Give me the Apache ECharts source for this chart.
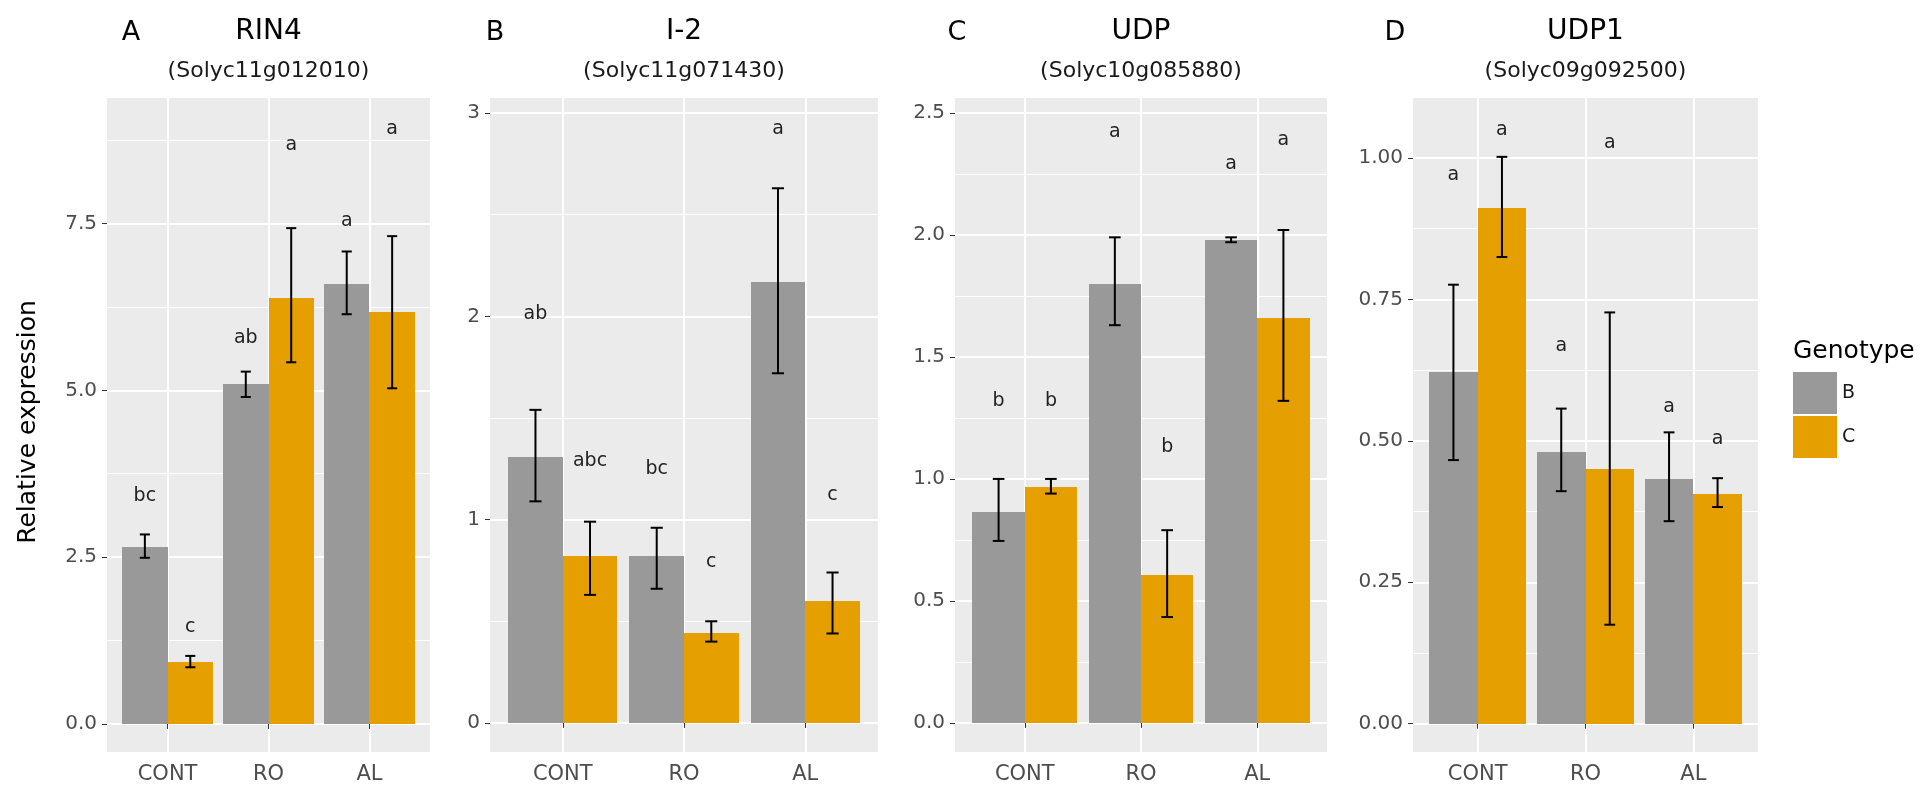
<!DOCTYPE html>
<html><head><meta charset="utf-8">
<script src="https://cdn.jsdelivr.net/npm/echarts@6/dist/echarts.min.js"></script>
<style>html,body{margin:0;padding:0;background:#fff}#c{width:1923px;height:799px}</style>
</head><body><div id="c"></div>
<script>
// ---------------- DATA ----------------
const categories = ['CONT', 'RO', 'AL'];
const genotypes = ['B', 'C'];

// Panel A: RIN4
const rin4_B = [2.65, 5.09, 6.59];
const rin4_B_lo = [2.49, 4.90, 6.14];
const rin4_B_hi = [2.84, 5.28, 7.08];
const rin4_C = [0.93, 6.39, 6.17];
const rin4_C_lo = [0.85, 5.42, 5.03];
const rin4_C_hi = [1.02, 7.43, 7.31];
const rin4_B_letters = ['bc', 'ab', 'a'];
const rin4_B_letterY = [3.41, 5.79, 7.53];
const rin4_C_letters = ['c', 'a', 'a'];
const rin4_C_letterY = [1.45, 8.68, 8.91];
const rin4_ticks = [0, 2.5, 5, 7.5];
const rin4_tickLabels = ['0.0', '2.5', '5.0', '7.5'];
const rin4_minor = [1.25, 3.75, 6.25, 8.75];

// Panel B: I-2
const i2_B = [1.31, 0.82, 2.17];
const i2_B_lo = [1.09, 0.66, 1.72];
const i2_B_hi = [1.54, 0.96, 2.63];
const i2_C = [0.82, 0.44, 0.60];
const i2_C_lo = [0.63, 0.40, 0.44];
const i2_C_hi = [0.99, 0.50, 0.74];
const i2_B_letters = ['ab', 'bc', 'a'];
const i2_B_letterY = [2.01, 1.25, 2.92];
const i2_C_letters = ['abc', 'c', 'c'];
const i2_C_letterY = [1.29, 0.79, 1.12];
const i2_ticks = [0, 1, 2, 3];
const i2_tickLabels = ['0', '1', '2', '3'];
const i2_minor = [0.5, 1.5, 2.5];

// Panel C: UDP
const udp_B = [0.865, 1.80, 1.98];
const udp_B_lo = [0.746, 1.63, 1.97];
const udp_B_hi = [1.00, 1.99, 1.99];
const udp_C = [0.967, 0.607, 1.66];
const udp_C_lo = [0.94, 0.434, 1.32];
const udp_C_hi = [1.00, 0.79, 2.02];
const udp_B_letters = ['b', 'a', 'a'];
const udp_B_letterY = [1.32, 2.42, 2.29];
const udp_C_letters = ['b', 'b', 'a'];
const udp_C_letterY = [1.32, 1.13, 2.39];
const udp_ticks = [0, 0.5, 1, 1.5, 2, 2.5];
const udp_tickLabels = ['0.0', '0.5', '1.0', '1.5', '2.0', '2.5'];
const udp_minor = [0.25, 0.75, 1.25, 1.75, 2.25];

// Panel D: UDP1
const udp1_B = [0.621, 0.481, 0.432];
const udp1_B_lo = [0.466, 0.411, 0.358];
const udp1_B_hi = [0.776, 0.557, 0.515];
const udp1_C = [0.912, 0.450, 0.406];
const udp1_C_lo = [0.825, 0.175, 0.383];
const udp1_C_hi = [1.002, 0.727, 0.434];
const udp1_B_letters = ['a', 'a', 'a'];
const udp1_B_letterY = [0.97, 0.667, 0.559];
const udp1_C_letters = ['a', 'a', 'a'];
const udp1_C_letterY = [1.049, 1.026, 0.504];
const udp1_ticks = [0, 0.25, 0.5, 0.75, 1.0];
const udp1_tickLabels = ['0.00', '0.25', '0.50', '0.75', '1.00'];
const udp1_minor = [0.125, 0.375, 0.625, 0.875];

// ---------------- LAYOUT / STYLE ----------------
const FONT = 'DejaVu Sans';
const colors = { B: '#999999', C: '#E69F00' };
const panels = [
  { tag: 'A', gene: 'RIN4', id: '(Solyc11g012010)', left: 107, width: 323, ymin: -0.42, ymax: 9.38,
    B: [rin4_B, rin4_B_lo, rin4_B_hi, rin4_B_letters, rin4_B_letterY],
    C: [rin4_C, rin4_C_lo, rin4_C_hi, rin4_C_letters, rin4_C_letterY],
    ticks: rin4_ticks, labels: rin4_tickLabels, minor: rin4_minor, tagX: 131 },
  { tag: 'B', gene: 'I-2', id: '(Solyc11g071430)', left: 490, width: 388, ymin: -0.143, ymax: 3.074,
    B: [i2_B, i2_B_lo, i2_B_hi, i2_B_letters, i2_B_letterY],
    C: [i2_C, i2_C_lo, i2_C_hi, i2_C_letters, i2_C_letterY],
    ticks: i2_ticks, labels: i2_tickLabels, minor: i2_minor, tagX: 495 },
  { tag: 'C', gene: 'UDP', id: '(Solyc10g085880)', left: 955, width: 372, ymin: -0.119, ymax: 2.561,
    B: [udp_B, udp_B_lo, udp_B_hi, udp_B_letters, udp_B_letterY],
    C: [udp_C, udp_C_lo, udp_C_hi, udp_C_letters, udp_C_letterY],
    ticks: udp_ticks, labels: udp_tickLabels, minor: udp_minor, tagX: 957 },
  { tag: 'D', gene: 'UDP1', id: '(Solyc09g092500)', left: 1413, width: 345, ymin: -0.05, ymax: 1.106,
    B: [udp1_B, udp1_B_lo, udp1_B_hi, udp1_B_letters, udp1_B_letterY],
    C: [udp1_C, udp1_C_lo, udp1_C_hi, udp1_C_letters, udp1_C_letterY],
    ticks: udp1_ticks, labels: udp1_tickLabels, minor: udp1_minor, tagX: 1395 }
];
const catPos = categories.map((c, i) => i + 1);
const DODGE = 0.45;

const grids = [], xAxes = [], yAxes = [], series = [], graphics = [];

panels.forEach((p, pi) => {
  grids.push({ left: p.left, top: 98, width: p.width, height: 654, show: true,
    backgroundColor: '#EBEBEB', borderWidth: 0, containLabel: false, outerBoundsMode: 'none' });
  xAxes.push({ gridIndex: pi, type: 'value', min: 0.4, max: 3.6,
    axisLine: { show: false },
    axisTick: { show: true, length: 5, customValues: catPos, lineStyle: { color: '#333333', width: 1 } },
    axisLabel: { customValues: catPos, formatter: v => categories[Math.round(v) - 1],
      color: '#4D4D4D', fontSize: 21, fontFamily: FONT, margin: 12 },
    splitLine: { show: true, lineStyle: { color: '#FFFFFF', width: 2 } } });
  yAxes.push({ gridIndex: pi, type: 'value', min: p.ymin, max: p.ymax,
    axisLine: { show: false },
    axisTick: { show: true, length: 5, customValues: p.ticks, lineStyle: { color: '#333333', width: 1 } },
    axisLabel: { customValues: p.ticks,
      formatter: v => { let k = 0, d = 1e9; p.ticks.forEach((t, j) => { if (Math.abs(t - v) < d) { d = Math.abs(t - v); k = j; } }); return p.labels[k]; },
      color: '#4D4D4D', fontSize: 20, fontFamily: FONT, margin: 10 },
    splitLine: { show: true, lineStyle: { color: '#FFFFFF', width: 2 } } });
  yAxes.push({ gridIndex: pi, type: 'value', min: p.ymin, max: p.ymax, position: 'left',
    axisLine: { show: false },
    axisTick: { show: false, customValues: p.minor },
    axisLabel: { show: false, customValues: p.minor },
    splitLine: { show: true, lineStyle: { color: '#FFFFFF', width: 1 } } });

  genotypes.forEach((g, gi) => {
    const [vals, lo, hi, letters, letterY] = p[g];
    const side = gi === 0 ? -1 : 1;
    // bars
    series.push({
      name: g, type: 'custom', xAxisIndex: pi, yAxisIndex: pi * 2,
      itemStyle: { color: colors[g] }, z: 2,
      data: catPos.map((x, i) => [x, vals[i]]),
      renderItem: (params, api) => {
        const x = api.value(0), y = api.value(1);
        const x0 = side < 0 ? x - DODGE : x;
        const a = api.coord([x0, y]);
        const b = api.coord([x0 + DODGE, 0]);
        const L = Math.round(a[0]), R = Math.round(b[0]), T = Math.round(a[1]), Bt = Math.round(b[1]);
        return { type: 'rect', shape: { x: L, y: T, width: R - L, height: Bt - T },
          style: { fill: colors[g] } };
      }
    });
    // error bars
    series.push({
      name: g + ' error', type: 'custom', xAxisIndex: pi, yAxisIndex: pi * 2, z: 3,
      data: catPos.map((x, i) => [x, lo[i], hi[i]]),
      renderItem: (params, api) => {
        const xc = api.value(0) + side * DODGE / 2;
        const l = api.value(1), h = api.value(2);
        const top = api.coord([xc, h]), bot = api.coord([xc, l]);
        const cl = api.coord([xc - 0.05, h])[0], cr = api.coord([xc + 0.05, h])[0];
        const st = { stroke: '#000000', lineWidth: 2 };
        return { type: 'group', children: [
          { type: 'line', shape: { x1: top[0], y1: top[1], x2: bot[0], y2: bot[1] }, style: st },
          { type: 'line', shape: { x1: cl, y1: top[1], x2: cr, y2: top[1] }, style: st },
          { type: 'line', shape: { x1: cl, y1: bot[1], x2: cr, y2: bot[1] }, style: st }
        ] };
      }
    });
    // significance letters
    series.push({
      name: g + ' letters', type: 'custom', xAxisIndex: pi, yAxisIndex: pi * 2, z: 4,
      data: catPos.map((x, i) => [x, letterY[i], i]),
      renderItem: (params, api) => {
        const xc = api.value(0) + side * DODGE / 2;
        const pt = api.coord([xc, api.value(1)]);
        return { type: 'text', x: pt[0], y: pt[1],
          style: { text: letters[api.value(2)], align: 'center', verticalAlign: 'middle',
            font: '19px "' + FONT + '"', fill: '#222222' } };
      }
    });
  });

  const cx = p.left + p.width / 2;
  graphics.push({ type: 'text', x: p.tagX, y: 33, style: { text: p.tag, align: 'center', verticalAlign: 'middle', font: '27px "' + FONT + '"', fill: '#000' } });
  graphics.push({ type: 'text', x: cx, y: 32, style: { text: p.gene, align: 'center', verticalAlign: 'middle', font: '28px "' + FONT + '"', fill: '#000' } });
  graphics.push({ type: 'text', x: cx, y: 71, style: { text: p.id, align: 'center', verticalAlign: 'middle', font: '22px "' + FONT + '"', fill: '#1a1a1a' } });
});

graphics.push({ type: 'text', x: 28, y: 422, rotation: Math.PI / 2,
  style: { text: 'Relative expression', align: 'center', verticalAlign: 'middle', font: '25px "' + FONT + '"', fill: '#000' } });
graphics.push({ type: 'text', x: 1793, y: 351,
  style: { text: 'Genotype', align: 'left', verticalAlign: 'middle', font: '25px "' + FONT + '"', fill: '#000' } });

const chart = echarts.init(document.getElementById('c'), null, { renderer: 'canvas' });
chart.setOption({
  animation: false,
  backgroundColor: '#FFFFFF',
  grid: grids, xAxis: xAxes, yAxis: yAxes, series: series,
  legend: {
    orient: 'vertical', left: 1793, top: 372, padding: 0,
    itemWidth: 44, itemHeight: 42, itemGap: 2, icon: 'rect',
    selectedMode: false,
    textStyle: { fontSize: 19, fontFamily: FONT, color: '#1a1a1a' },
    data: genotypes.map(g => ({ name: g, icon: 'rect', itemStyle: { color: colors[g] } }))
  },
  graphic: graphics
});
</script>
</body></html>
